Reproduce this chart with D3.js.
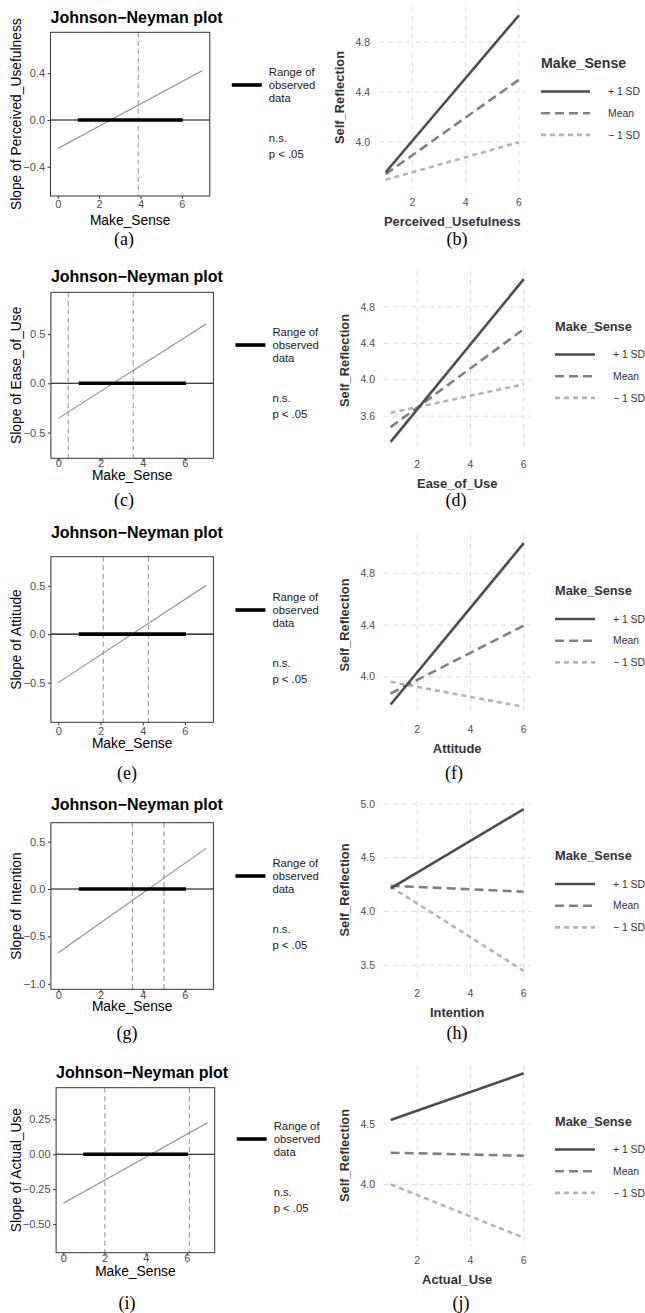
<!DOCTYPE html>
<html>
<head>
<meta charset="utf-8">
<script src="https://cdn.jsdelivr.net/npm/d3@7"></script>
<style>
  body { margin: 0; background: #fff; }
  text { font-family: "Liberation Sans", Arial, sans-serif; }
</style>
</head>
<body>
<div id="fig"></div>
<script>
// one row per predictor
var predictors = ["Perceived_Usefulness", "Ease_of_Use", "Attitude", "Intention", "Actual_Use"];
var moderator = "Make_Sense";
var captions = [["(a)", "(b)"], ["(c)", "(d)"], ["(e)", "(f)"], ["(g)", "(h)"], ["(i)", "(j)"]];

// Johnson-Neyman: slope of predictor at Make_Sense = 0 and 7
var jnMod = [0, 7];
var jnSlope = [[-0.243, 0.423], [-0.356, 0.603], [-0.50, 0.503], [-0.672, 0.429], [-0.351, 0.226]];
var jnBounds = [[3.89], [0.47, 3.55], [2.13, 4.27], [3.51, 5.01], [2.02, 6.12]];
var observedRange = [0.97, 6.05];
var jnXDomain = [-0.35, 7.35];
var jnYDomain = [[-0.65, 0.75], [-0.762, 0.925], [-0.91, 0.80], [-1.058, 0.70], [-0.705, 0.477]];
var jnXTicks = [0, 2, 4, 6];
var jnYTicks = [[-0.4, 0, 0.4], [-0.5, 0, 0.5], [-0.5, 0, 0.5], [-1, -0.5, 0, 0.5], [-0.5, -0.25, 0, 0.25]];
var jnYFormat = [".1f", ".1f", ".1f", ".1f", ".2f"];
var jnLegend = ["Range of", "observed", "data"];
var jnSig = ["n.s.", "p < .05"];

// simple slopes: Self_Reflection at predictor = 1 and 6
var predX = [1, 6];
var plusSD  = [[3.76, 5.013], [3.318, 5.104], [3.786, 5.032], [4.215, 4.953], [4.533, 4.92]];
var meanSD  = [[3.745, 4.499], [3.48, 4.555], [3.871, 4.395], [4.24, 4.184], [4.262, 4.237]];
var minusSD = [[3.70, 4.00], [3.636, 3.95], [3.961, 3.768], [4.23, 3.447], [4.00, 3.558]];
var levels = ["+ 1 SD", "Mean", "\u2212 1 SD"];
var srXTicks = [2, 4, 6];
var srYTicks = [[4.0, 4.4, 4.8], [3.6, 4.0, 4.4, 4.8], [4.0, 4.4, 4.8], [3.5, 4.0, 4.5, 5.0], [4.0, 4.5]];

// layout of each row (pixels)
var jnBox = [
  {l: 50.5, r: 209.8, t: 32.3, b: 196,    title: 23,   tick: 208,  xt: 225,  key: 85},
  {l: 50.9, r: 213.4, t: 292.3, b: 458.3, title: 282,  tick: 467,  xt: 480,  key: 345},
  {l: 50.9, r: 213.4, t: 556.7, b: 722.3, title: 538,  tick: 735,  xt: 748,  key: 610},
  {l: 50.9, r: 213.4, t: 822.7, b: 989.3, title: 810,  tick: 999,  xt: 1011, key: 876},
  {l: 56.1, r: 214.7, t: 1087.7, b: 1252.7, title: 1078, tick: 1262, xt: 1276, key: 1139}
];
var srBox = [
  {l: 379, r: 525.7, t: 7,    b: 188,  legX: 541, keyLen: 49, labX: 608, ts: 14.2},
  {l: 384, r: 530.4, t: 271,  b: 450,  legX: 555, keyLen: 40, labX: 613, ts: 12.8},
  {l: 384, r: 530.4, t: 535,  b: 715,  legX: 555, keyLen: 40, labX: 613, ts: 12.8},
  {l: 384, r: 530.4, t: 801,  b: 979,  legX: 555, keyLen: 40, labX: 613, ts: 12.8},
  {l: 384, r: 530.4, t: 1065, b: 1246, legX: 555, keyLen: 40, labX: 613, ts: 12.8}
];
var capPos = [[124, 457, 245], [124, 456, 506], [127, 454, 779], [127, 457, 1039], [127, 461, 1309]];

var lineColors = ["#4d4d4d", "#808080", "#b3b3b3"];
var lineDash = [null, "9,5", "5,4"];

var svg = d3.select("#fig").append("svg")
    .attr("width", 645)
    .attr("height", 1313);

predictors.forEach(function(pred, i) {
  drawJN(i, pred);
  drawSlopes(i, pred);
  svg.append("text").attr("x", capPos[i][0]).attr("y", capPos[i][2])
    .attr("text-anchor", "middle").style("font-family", "'Liberation Serif', 'Times New Roman', serif")
    .style("font-size", "18px").text(captions[i][0]);
  svg.append("text").attr("x", capPos[i][1]).attr("y", capPos[i][2])
    .attr("text-anchor", "middle").style("font-family", "'Liberation Serif', 'Times New Roman', serif")
    .style("font-size", "18px").text(captions[i][1]);
});

function drawJN(i, pred) {
  var bx = jnBox[i];
  var g = svg.append("g");
  var x = d3.scaleLinear().domain(jnXDomain).range([bx.l, bx.r]);
  var y = d3.scaleLinear().domain(jnYDomain[i]).range([bx.b, bx.t]);

  // title
  g.append("text").attr("x", bx.l).attr("y", bx.title)
    .style("font-size", "16px").style("font-weight", "bold")
    .text("Johnson\u2212Neyman plot");

  // slope line
  g.append("path")
    .datum(jnMod.map(function(m, k) { return [m, jnSlope[i][k]]; }))
    .attr("fill", "none").attr("stroke", "#8c8c8c").attr("stroke-width", 1.1)
    .attr("d", d3.line().x(function(d) { return x(d[0]); }).y(function(d) { return y(d[1]); }));

  // significance bounds
  jnBounds[i].forEach(function(v) {
    g.append("line").attr("x1", x(v)).attr("x2", x(v)).attr("y1", bx.t).attr("y2", bx.b)
      .attr("stroke", "#8c8c8c").attr("stroke-width", 1).attr("stroke-dasharray", "5,3.5");
  });

  // zero line and observed range
  g.append("line").attr("x1", bx.l).attr("x2", bx.r).attr("y1", y(0)).attr("y2", y(0))
    .attr("stroke", "#000").attr("stroke-width", 1.1);
  g.append("line").attr("x1", x(observedRange[0])).attr("x2", x(observedRange[1]))
    .attr("y1", y(0)).attr("y2", y(0)).attr("stroke", "#000").attr("stroke-width", 3.6);

  // panel border
  g.append("rect").attr("x", bx.l).attr("y", bx.t)
    .attr("width", bx.r - bx.l).attr("height", bx.b - bx.t)
    .attr("fill", "none").attr("stroke", "#333").attr("stroke-width", 1);

  // axes
  var xa = g.append("g").attr("transform", "translate(0," + bx.b + ")")
    .call(d3.axisBottom(x).tickValues(jnXTicks).tickSize(3).tickFormat(d3.format("d")));
  var ya = g.append("g").attr("transform", "translate(" + bx.l + ",0)")
    .call(d3.axisLeft(y).tickValues(jnYTicks[i]).tickSize(3).tickFormat(d3.format(jnYFormat[i])));
  [xa, ya].forEach(function(a) {
    a.select(".domain").remove();
    a.selectAll("line").attr("stroke", "#333");
    a.selectAll("text").attr("fill", "#4d4d4d").style("font-size", "11px")
      .style("font-family", "'Liberation Sans', Arial, sans-serif");
  });
  xa.selectAll("text").attr("dy", null).attr("y", bx.tick - bx.b);
  ya.selectAll("text").attr("x", -5.5);

  // axis titles
  g.append("text").attr("x", (bx.l + bx.r) / 2).attr("y", bx.xt)
    .attr("text-anchor", "middle").style("font-size", "13.8px").text(moderator);
  g.append("text")
    .attr("transform", "translate(21," + ((bx.t + bx.b) / 2) + ") rotate(-90)")
    .attr("text-anchor", "middle").style("font-size", "13.8px").text("Slope of " + pred);

  // legend
  var kx1 = bx.r + 22, kx2 = bx.r + 52;
  g.append("line").attr("x1", kx1).attr("x2", kx2).attr("y1", bx.key).attr("y2", bx.key)
    .attr("stroke", "#000").attr("stroke-width", 3.6);
  jnLegend.forEach(function(t, k) {
    g.append("text").attr("x", kx2 + 7).attr("y", bx.key + (k - 1) * 12.8).attr("dy", "0.35em")
      .style("font-size", "11.3px").attr("fill", "#1a1a1a").text(t);
  });
  jnSig.forEach(function(t, k) {
    g.append("text").attr("x", kx2 + 7).attr("y", bx.key + 53 + k * 16).attr("dy", "0.35em")
      .style("font-size", "11.3px").attr("fill", "#1a1a1a").text(t);
  });
}

function drawSlopes(i, pred) {
  var bx = srBox[i];
  var g = svg.append("g");
  var series = [plusSD[i], meanSD[i], minusSD[i]];
  var ext = d3.extent(d3.merge(series));
  var pad = (ext[1] - ext[0]) * 0.05;
  var x = d3.scaleLinear().domain([predX[0] - 0.25, predX[1] + 0.25]).range([bx.l, bx.r]);
  var y = d3.scaleLinear().domain([ext[0] - pad, ext[1] + pad]).range([bx.b, bx.t]);

  // grid
  g.selectAll(".vg").data(srXTicks).enter().append("line")
    .attr("x1", x).attr("x2", x).attr("y1", bx.t).attr("y2", bx.b)
    .attr("stroke", "#dedede").attr("stroke-width", 1).attr("stroke-dasharray", "5,4");
  g.selectAll(".hg").data(srYTicks[i]).enter().append("line")
    .attr("x1", bx.l).attr("x2", bx.r).attr("y1", y).attr("y2", y)
    .attr("stroke", "#dedede").attr("stroke-width", 1).attr("stroke-dasharray", "5,4");

  // lines, -1 SD drawn first
  var line = d3.line().x(function(d) { return x(d[0]); }).y(function(d) { return y(d[1]); });
  [2, 1, 0].forEach(function(k) {
    g.append("path")
      .datum(predX.map(function(p, j) { return [p, series[k][j]]; }))
      .attr("fill", "none").attr("stroke", lineColors[k]).attr("stroke-width", 2.6)
      .attr("stroke-dasharray", lineDash[k]).attr("d", line);
  });

  // tick labels
  g.selectAll(".xl").data(srXTicks).enter().append("text")
    .attr("x", x).attr("y", bx.b + 18).attr("text-anchor", "middle")
    .style("font-size", "10.5px").attr("fill", "#4d4d4d").text(d3.format("d"));
  g.selectAll(".yl").data(srYTicks[i]).enter().append("text")
    .attr("x", bx.l - 9).attr("y", y).attr("dy", "0.35em").attr("text-anchor", "end")
    .style("font-size", "10.5px").attr("fill", "#4d4d4d").text(d3.format(".1f"));

  // axis titles
  g.append("text").attr("x", (bx.l + bx.r) / 2).attr("y", bx.b + 38)
    .attr("text-anchor", "middle").style("font-size", "12.9px").style("font-weight", "bold")
    .attr("fill", "#333").text(pred);
  g.append("text")
    .attr("transform", "translate(" + (bx.l - 35) + "," + ((bx.t + bx.b) / 2) + ") rotate(-90)")
    .attr("text-anchor", "middle").style("font-size", "12.9px").style("font-weight", "bold")
    .attr("fill", "#333").text("Self_Reflection");

  // legend
  var cy = (bx.t + bx.b) / 2;
  g.append("text").attr("x", bx.legX).attr("y", cy - 34).attr("dy", "0.35em")
    .style("font-size", bx.ts + "px").style("font-weight", "bold").attr("fill", "#333").text(moderator);
  levels.forEach(function(lab, k) {
    var ky = cy - 6 + k * 21.7;
    g.append("line").attr("x1", bx.legX).attr("x2", bx.legX + bx.keyLen).attr("y1", ky).attr("y2", ky)
      .attr("stroke", lineColors[k]).attr("stroke-width", 2.6).attr("stroke-dasharray", lineDash[k]);
    g.append("text").attr("x", bx.labX).attr("y", ky).attr("dy", "0.35em")
      .style("font-size", "10.4px").attr("fill", "#333").text(lab);
  });
}
</script>
</body>
</html>
